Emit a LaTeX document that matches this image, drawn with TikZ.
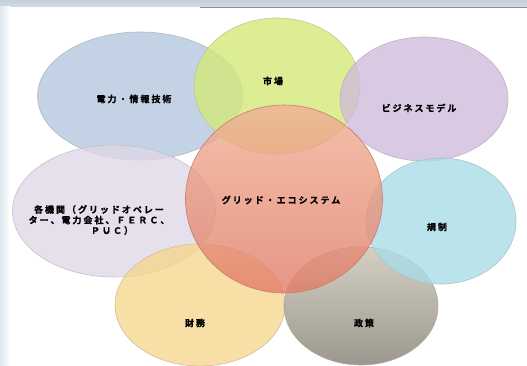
\documentclass[tikz,border=0pt]{standalone}
\usepackage{fontspec}
\newfontfamily\jp{Noto Sans CJK JP}[LetterSpace=22, BoldFont={Noto Sans CJK JP Bold}, BoldFeatures={FakeBold=1.2}]
\usetikzlibrary{shapes.geometric}
\definecolor{cblue}{RGB}{180,198,222}
\definecolor{cgreen}{RGB}{212,232,118}
\definecolor{cpurple}{RGB}{208,186,220}
\definecolor{clav}{RGB}{222,216,230}
\definecolor{csalmonT}{RGB}{240,176,148}
\definecolor{csalmonB}{RGB}{226,124,104}
\definecolor{ccyan}{RGB}{168,220,230}
\definecolor{cyellow}{RGB}{246,214,140}
\definecolor{cgreyT}{RGB}{206,200,186}
\definecolor{cgreyB}{RGB}{140,134,122}
\definecolor{cband}{RGB}{210,220,232}
\tikzset{
  blob/.style={ellipse, draw=#1!70!black!60, line width=0.6pt, fill=#1, fill opacity=0.78, inner sep=0pt},
  lab/.style={font=\jp\bfseries\fontsize{9}{10.5}\selectfont, text=black, align=center, inner sep=0pt}
}
\begin{document}
\begin{tikzpicture}[x=1pt,y=-1pt]
\useasboundingbox (0,0) rectangle (527,366);
\fill[white] (0,0) rectangle (527,366);
\fill[top color=cband!80!black!30!cband, bottom color=cband] (0,0) rectangle (527,7);
\fill[left color=cband!70, right color=white] (0,7) rectangle (10,366);
\draw[black!45, line width=0.8pt] (200,7.5) -- (527,7.5);
% ellipses
\node[blob=cblue, minimum width=205, minimum height=128] (power) at (140,96) {};
\node[blob=cgreen, minimum width=166, minimum height=136] (market) at (277,86) {};
\node[blob=cpurple, minimum width=168, minimum height=124] (biz) at (424,99) {};
\node[blob=clav, minimum width=203, minimum height=132] (org) at (114,211) {};
\node[blob=cyellow, minimum width=170, minimum height=122] (fin) at (200,305) {};
\node[ellipse, draw=cgreyB!70, line width=0.6pt, top color=cgreyT, bottom color=cgreyB, fill opacity=0.85, minimum width=154, minimum height=118, inner sep=0pt] (pol) at (361,306) {};
\node[blob=ccyan, minimum width=150, minimum height=126] (reg) at (441,221) {};
\node[ellipse, draw=csalmonB!75!gray, line width=0.6pt, top color=csalmonT, bottom color=csalmonB, fill opacity=0.8, minimum width=197, minimum height=188, inner sep=0pt] (grid) at (284,199) {};
% labels
\node[lab] (tpower) at (134,99) {電力・情報技術};
\node[lab] (tmarket) at (273,81) {市場};
\node[lab] (tbiz) at (419,108) {ビジネスモデル};
\node[lab] (torg) at (99,220) {各機関（グリッドオペレー\\ター、電力会社、ＦＥＲＣ、\\\hspace*{26pt}ＰＵＣ）};
\node[lab] (tgrid) at (281,200) {グリッド・エコシステム};
\node[lab] (treg) at (437,227) {規制};
\node[lab] (tfin) at (195,323) {財務};
\node[lab] (tpol) at (364,323) {政策};
\end{tikzpicture}
\end{document}
